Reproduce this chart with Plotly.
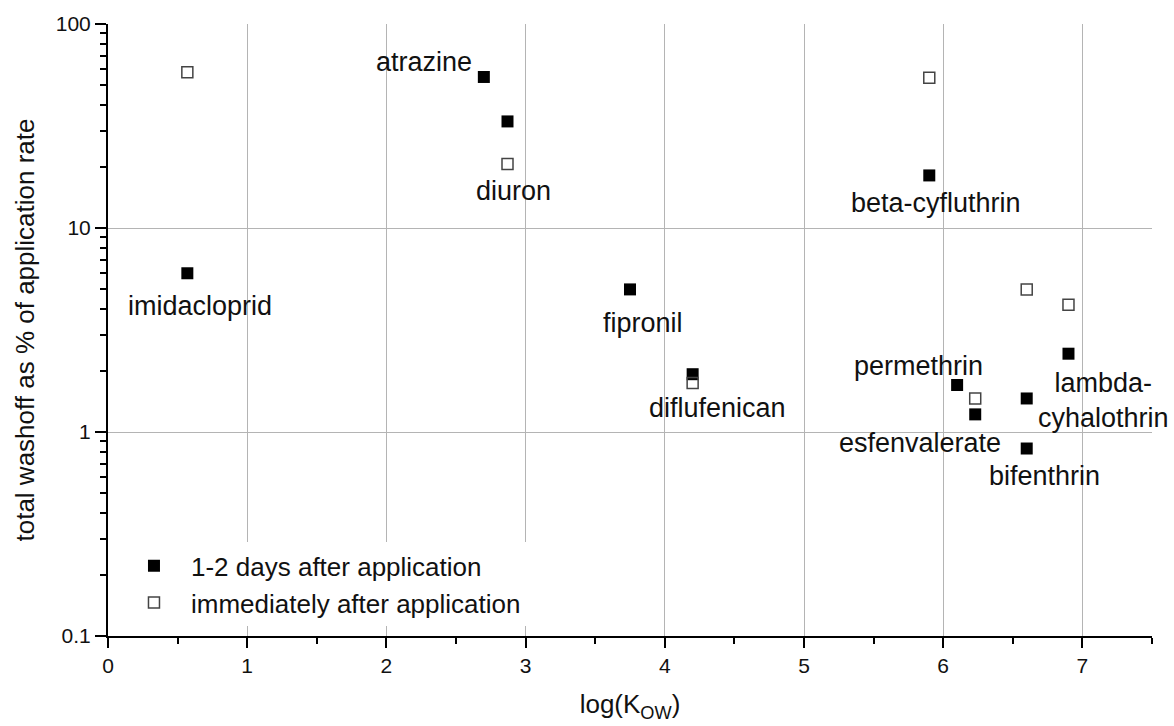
import math
import plotly.graph_objects as go

# log(Kow) and washoff (% of application rate), measured 1-2 days after application
late_logkow = [0.57, 2.70, 2.87, 3.75, 4.20, 5.90, 6.10, 6.23, 6.60, 6.60, 6.90]
late_washoff = [6.0, 55.0, 33.3, 5.0, 1.92, 18.1, 1.70, 1.22, 1.46, 0.83, 2.42]

# washoff measured immediately after application
early_logkow = [0.57, 2.87, 4.20, 5.90, 6.23, 6.60, 6.90]
early_washoff = [58.0, 20.6, 1.74, 54.5, 1.46, 5.0, 4.21]

# compound names with label anchor points (data coordinates)
compound_names = ["imidacloprid", "atrazine", "diuron", "beta-cyfluthrin", "fipronil",
                  "diflufenican", "permethrin", "lambda-<br>cyhalothrin",
                  "esfenvalerate", "bifenthrin"]
label_x = [0.66, 2.27, 2.91, 5.95, 3.84, 4.38, 5.82, 7.15, 5.83, 6.73]
label_y = [4.16, 65.3, 15.15, 13.24, 3.44, 1.31, 2.10, 1.42, 0.884, 0.61]

x_ticks = [0, 1, 2, 3, 4, 5, 6, 7]
y_ticks = [0.1, 1, 10, 100]
y_ticktext = ["0.1", "1", "10", "100"]
y_minor = [m * d for d in (0.1, 1, 10) for m in range(2, 10)]

FONT = "Arial, Liberation Sans, Helvetica, sans-serif"

fig = go.Figure()
fig.add_trace(go.Scatter(
    x=late_logkow, y=late_washoff, mode="markers",
    name="1-2 days after application",
    marker=dict(symbol="square", size=12, color="black"),
))
fig.add_trace(go.Scatter(
    x=early_logkow, y=early_washoff, mode="markers",
    name="immediately after application",
    marker=dict(symbol="square-open", size=11, color="#444444",
                line=dict(width=1.5, color="#444444")),
))

# annotations on a log axis take log10 positions
for name, lx, ly in zip(compound_names, label_x, label_y):
    fig.add_annotation(x=lx, y=math.log10(ly), yref="y", xref="x", text=name,
                       showarrow=False, font=dict(size=27, color="#111111", family=FONT),
                       xanchor="center", yanchor="middle")

fig.update_layout(
    width=1174, height=726,
    margin=dict(l=108, r=22, t=22, b=89),
    paper_bgcolor="white", plot_bgcolor="white",
    font=dict(family=FONT, color="#111111"),
    showlegend=True,
    legend=dict(
        x=0.0086, y=0.153, xanchor="left", yanchor="top",
        bgcolor="white", borderwidth=0,
        font=dict(size=26, family=FONT, color="#111111"),
        itemwidth=64, tracegroupgap=0,
    ),
)

fig.update_xaxes(
    range=[0, 7.5], tickvals=x_ticks,
    showgrid=True, gridcolor="#b4b4b4", gridwidth=1.3, zeroline=False,
    showline=True, linecolor="black", linewidth=2,
    ticks="outside", ticklen=10, tickwidth=2, tickcolor="black",
    tickfont=dict(size=21, family=FONT, color="#111111"),
    minor=dict(dtick=0.5, ticks="outside", ticklen=6, tickwidth=2,
               tickcolor="black", showgrid=False),
    title=dict(text="log(K<sub>OW</sub>)", font=dict(size=26, family=FONT, color="#111111"),
               standoff=19),
)

fig.update_yaxes(
    type="log", range=[-1, 2], tickvals=y_ticks, ticktext=y_ticktext,
    showgrid=True, gridcolor="#b4b4b4", gridwidth=1.3, zeroline=False,
    showline=True, linecolor="black", linewidth=2,
    ticks="outside", ticklen=11, tickwidth=2, tickcolor="black",
    tickfont=dict(size=21, family=FONT, color="#111111"),
    minor=dict(tickvals=y_minor, ticks="outside", ticklen=6, tickwidth=2,
               tickcolor="black", showgrid=False),
    title=dict(text="total washoff as % of application rate",
               font=dict(size=26, family=FONT, color="#111111"), standoff=14),
)

fig.write_html("out.html")
